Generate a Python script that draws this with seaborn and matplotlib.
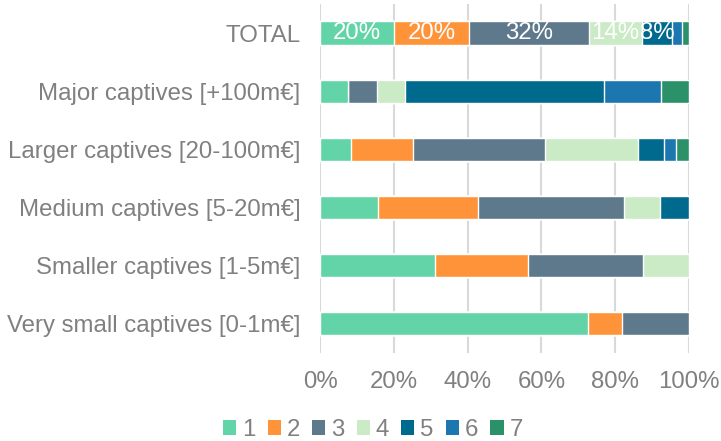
import numpy as np
import pandas as pd
import matplotlib.pyplot as plt
import seaborn as sns
from matplotlib.patches import Patch

# Categories, top to bottom
categories = ['TOTAL',
              'Major captives [+100m€]',
              'Larger captives [20-100m€]',
              'Medium captives [5-20m€]',
              'Smaller captives [1-5m€]',
              'Very small captives [0-1m€]']

# Share of each group (%) per category
s1 = [20.0, 7.7, 8.4, 15.6, 31.25, 72.7]
s2 = [20.4, 0.0, 16.9, 27.1, 25.0, 9.1]
s3 = [32.5, 7.7, 35.6, 39.8, 31.25, 18.2]
s4 = [14.4, 7.7, 25.4, 9.6, 12.5, 0.0]
s5 = [8.2, 53.8, 6.8, 7.9, 0.0, 0.0]
s6 = [2.5, 15.4, 3.4, 0.0, 0.0, 0.0]
s7 = [2.0, 7.7, 3.5, 0.0, 0.0, 0.0]

series_names = ['1', '2', '3', '4', '5', '6', '7']
colors = ['#63D4A8', '#FF933A', '#5E798B', '#CBEAC6', '#006A8E', '#1C77B0', '#2A9169']
x_ticks = [0, 20, 40, 60, 80, 100]

values = np.array([s1, s2, s3, s4, s5, s6, s7])
cum = values.cumsum(axis=0)

grey = '#808080'
sns.set_style('white')
plt.rcParams['font.family'] = ['Liberation Sans', 'DejaVu Sans']

fig = plt.figure(figsize=(7.21, 4.41), dpi=100)
ax = fig.add_axes([320 / 721, 1 - 352.5 / 441, 369 / 721, 348.5 / 441])

# stacked bars: draw cumulative totals from the widest down
for i in range(len(series_names) - 1, -1, -1):
    df = pd.DataFrame({'cat': categories, 'val': cum[i]})
    sns.barplot(data=df, x='val', y='cat', order=categories, color=colors[i],
                saturation=1, width=0.4, orient='h', ax=ax, zorder=3 + (6 - i) * 0.01)

# data labels on the TOTAL row
for i in range(len(series_names)):
    v = values[i][0]
    if v >= 5:
        ax.text(cum[i][0] - v / 2, 0, f'{v:.0f}%', color='white', fontsize=17.3,
                ha='center', va='center', zorder=10)

ax.set_xlim(0, 100)
ax.set_xticks(x_ticks)
ax.set_xticklabels([f'{t}%' for t in x_ticks])
ax.set_xlabel('')
ax.set_ylabel('')
ax.xaxis.grid(True, color='#D9D9D9', linewidth=1.5, zorder=0)
ax.set_axisbelow(True)
for sp in ax.spines.values():
    sp.set_visible(False)
ax.tick_params(axis='both', length=0, labelsize=17.3, labelcolor=grey)
ax.tick_params(axis='x', pad=13)
ax.tick_params(axis='y', pad=14)

handles = [Patch(facecolor=c, edgecolor='none') for c in colors]
fig.legend(handles, series_names, loc='center', bbox_to_anchor=(373 / 721, 1 - 430 / 441),
           ncol=7, frameon=False, fontsize=17.3, labelcolor=grey, borderpad=0.1,
           handlelength=0.55, handleheight=0.55, handletextpad=0.25, columnspacing=0.5)

fig.savefig('out.png', dpi=100)
